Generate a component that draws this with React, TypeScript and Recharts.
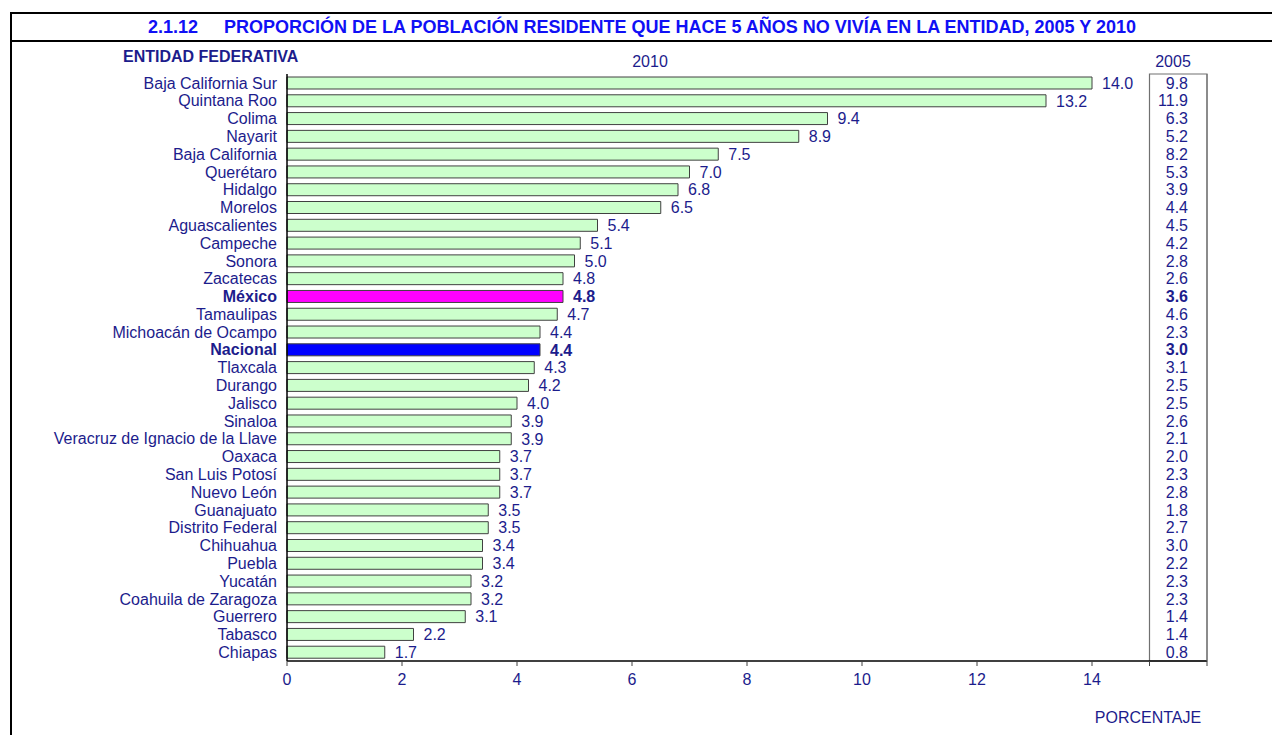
import React from "react";
import {
  BarChart,
  Bar,
  XAxis,
  YAxis,
  Cell,
  LabelList,
  ReferenceArea,
} from "recharts";

const entidades: string[] = [
  "Baja California Sur",
  "Quintana Roo",
  "Colima",
  "Nayarit",
  "Baja California",
  "Querétaro",
  "Hidalgo",
  "Morelos",
  "Aguascalientes",
  "Campeche",
  "Sonora",
  "Zacatecas",
  "México",
  "Tamaulipas",
  "Michoacán de Ocampo",
  "Nacional",
  "Tlaxcala",
  "Durango",
  "Jalisco",
  "Sinaloa",
  "Veracruz de Ignacio de la Llave",
  "Oaxaca",
  "San Luis Potosí",
  "Nuevo León",
  "Guanajuato",
  "Distrito Federal",
  "Chihuahua",
  "Puebla",
  "Yucatán",
  "Coahuila de Zaragoza",
  "Guerrero",
  "Tabasco",
  "Chiapas",
];

const valores2010: number[] = [
  14.0, 13.2, 9.4, 8.9, 7.5, 7.0, 6.8, 6.5, 5.4, 5.1, 5.0, 4.8, 4.8, 4.7, 4.4,
  4.4, 4.3, 4.2, 4.0, 3.9, 3.9, 3.7, 3.7, 3.7, 3.5, 3.5, 3.4, 3.4, 3.2, 3.2,
  3.1, 2.2, 1.7,
];

const valores2005: number[] = [
  9.8, 11.9, 6.3, 5.2, 8.2, 5.3, 3.9, 4.4, 4.5, 4.2, 2.8, 2.6, 3.6, 4.6, 2.3,
  3.0, 3.1, 2.5, 2.5, 2.6, 2.1, 2.0, 2.3, 2.8, 1.8, 2.7, 3.0, 2.2, 2.3, 2.3,
  1.4, 1.4, 0.8,
];

const xTicks: number[] = [0, 2, 4, 6, 8, 10, 12, 14, 15, 16];
const xTickLabels: number[] = [0, 2, 4, 6, 8, 10, 12, 14];

const destacados: Record<string, string> = {
  "México": "#FF00FF",
  Nacional: "#0000FF",
};

const TITLE_NUM = "2.1.12";
const TITLE_TEXT =
  "PROPORCIÓN DE LA POBLACIÓN RESIDENTE QUE HACE 5 AÑOS NO VIVÍA EN LA ENTIDAD, 2005 Y 2010";

const NAVY = "#1C1C8C";
const FONT = "'Liberation Sans', Arial, sans-serif";

const data = entidades.map((e, i) => ({
  entidad: e,
  v2010: valores2010[i],
  v2005: valores2005[i],
}));

const LeftTick = (props: any) => {
  const { x, y, payload } = props;
  const bold = destacados[payload.value] !== undefined;
  return (
    <text
      x={x}
      y={y}
      dy="0.36em"
      textAnchor="end"
      fill={NAVY}
      fontSize={16}
      fontFamily={FONT}
      fontWeight={bold ? "bold" : "normal"}
    >
      {payload.value}
    </text>
  );
};

const RightTick = (props: any) => {
  const { x, y, payload, index } = props;
  const idx = typeof index === "number" ? index : entidades.indexOf(payload.value);
  const bold = destacados[payload.value] !== undefined;
  return (
    <text
      x={x - 19}
      y={y}
      dy="0.36em"
      textAnchor="end"
      fill={NAVY}
      fontSize={16}
      fontFamily={FONT}
      fontWeight={bold ? "bold" : "normal"}
    >
      {valores2005[idx].toFixed(1)}
    </text>
  );
};

const ValueLabel = (props: any) => {
  const { x, y, width, height, value, index } = props;
  const bold = destacados[entidades[index]] !== undefined;
  return (
    <text
      x={x + width + 10}
      y={y + height / 2}
      dy="0.36em"
      textAnchor="start"
      fill={NAVY}
      fontSize={16}
      fontFamily={FONT}
      fontWeight={bold ? "bold" : "normal"}
    >
      {Number(value).toFixed(1)}
    </text>
  );
};

const textStyle: React.CSSProperties = {
  position: "absolute",
  fontFamily: FONT,
  color: NAVY,
  fontSize: 16,
  whiteSpace: "nowrap",
  lineHeight: "18px",
};

export default function App() {
  return (
    <div
      style={{
        position: "absolute",
        left: 0,
        top: 0,
        width: 1272,
        height: 735,
        background: "#fff",
        overflow: "hidden",
      }}
    >
      {/* frame lines */}
      <div style={{ position: "absolute", left: 10, top: 12, width: 1262, height: 2, background: "#000" }} />
      <div style={{ position: "absolute", left: 10, top: 40, width: 1262, height: 2, background: "#000" }} />
      <div style={{ position: "absolute", left: 10, top: 12, width: 2, height: 723, background: "#000" }} />

      {/* title */}
      <div
        style={{
          ...textStyle,
          left: 12,
          width: 1260,
          top: 17,
          textAlign: "center",
          color: "#1010F5",
          fontWeight: "bold",
          fontSize: 18,
          lineHeight: "20px",
        }}
      >
        <span>{TITLE_NUM}</span>
        <span style={{ display: "inline-block", width: 26 }} />
        <span>{TITLE_TEXT}</span>
      </div>

      <div style={{ ...textStyle, left: 123, top: 48, fontWeight: "bold" }}>ENTIDAD FEDERATIVA</div>
      <div style={{ ...textStyle, left: 600, width: 100, top: 53, textAlign: "center" }}>2010</div>
      <div style={{ ...textStyle, left: 1123, width: 100, top: 53, textAlign: "center" }}>2005</div>
      <div style={{ ...textStyle, left: 1048, width: 200, top: 709, textAlign: "center" }}>PORCENTAJE</div>

      <div style={{ position: "absolute", left: 0, top: 0 }}>
        <BarChart
          width={1272}
          height={735}
          data={data}
          layout="vertical"
          margin={{ top: 74, right: 0, bottom: 0, left: 0 }}
          barSize={12}
        >
          <XAxis
            type="number"
            domain={[0, 16]}
            ticks={xTicks}
            interval={0}
            height={74}
            axisLine={{ stroke: "#000", strokeWidth: 1.5 }}
            tickLine={{ stroke: "#404040" }}
            tickSize={5}
            tickMargin={8}
            tick={{ fill: NAVY, fontSize: 16, fontFamily: FONT }}
            tickFormatter={(v: number) => (xTickLabels.includes(v) ? String(v) : "")}
          />
          <YAxis
            type="category"
            dataKey="entidad"
            width={287}
            axisLine={{ stroke: "#000", strokeWidth: 1.5 }}
            tickLine={false}
            tickSize={0}
            tickMargin={10}
            interval={0}
            tick={<LeftTick />}
          />
          <YAxis
            yAxisId="right"
            orientation="right"
            type="category"
            dataKey="entidad"
            width={65}
            axisLine={{ stroke: "#707070" }}
            tickLine={false}
            tickSize={0}
            tickMargin={0}
            interval={0}
            tick={<RightTick />}
          />
          <ReferenceArea
            x1={15}
            x2={16}
            fill="none"
            fillOpacity={0}
            stroke="#707070"
            strokeWidth={1.2}
            ifOverflow="visible"
          />
          <Bar
            dataKey="v2010"
            fill="#CCFFCC"
            stroke="#404040"
            strokeWidth={1}
            isAnimationActive={false}
          >
            {data.map((d, i) => (
              <Cell key={i} fill={destacados[d.entidad] ?? "#CCFFCC"} />
            ))}
            <LabelList dataKey="v2010" content={<ValueLabel />} />
          </Bar>
        </BarChart>
      </div>
    </div>
  );
}
